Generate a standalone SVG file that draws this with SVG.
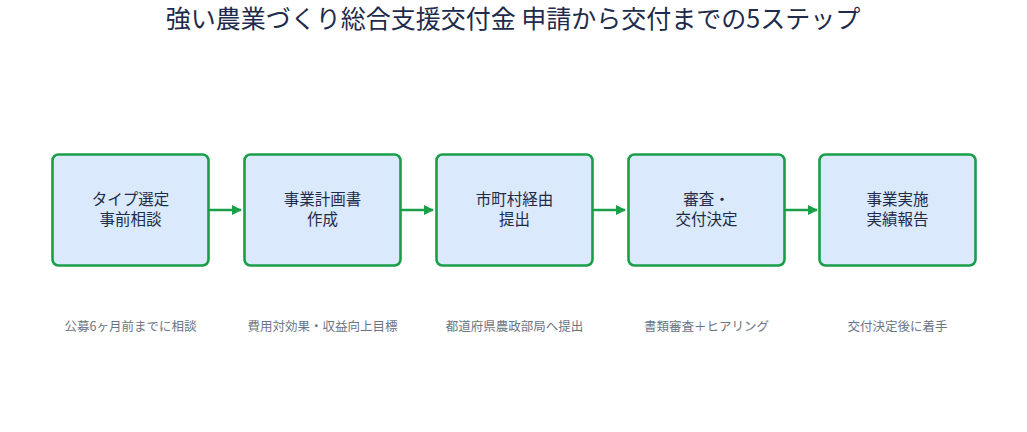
<svg xmlns="http://www.w3.org/2000/svg" width="1027" height="432" viewBox="0 0 1027 432">
<style>
.t{font-family:"Noto Sans CJK JP","Noto Sans",sans-serif;}
.title{font-size:25px;fill:#1e2b4a;text-anchor:middle;}
.box{fill:#dbe9fc;stroke:#1a9e48;stroke-width:2.6;}
.lbl{font-size:15.5px;fill:#1e2b4a;text-anchor:middle;}
.sub{font-size:12.5px;fill:#6b7485;text-anchor:middle;}
.con{stroke:#1a9e48;stroke-width:2.5;fill:none;}
</style>
<defs>
<marker id="ah" viewBox="0 0 10 10" refX="9" refY="5" markerWidth="4" markerHeight="4" orient="auto" markerUnits="strokeWidth">
<path d="M0,0 L10,5 L0,10 z" fill="#1a9e48"/>
</marker>
</defs>
<rect width="1027" height="432" fill="#ffffff"/>
<text class="t title" x="513" y="28">強い農業づくり総合支援交付金 申請から交付までの5ステップ</text>
<g id="connectors">
<line class="con" x1="209" y1="210" x2="241" y2="210" marker-end="url(#ah)"/>
<line class="con" x1="401" y1="210" x2="433" y2="210" marker-end="url(#ah)"/>
<line class="con" x1="593" y1="210" x2="625" y2="210" marker-end="url(#ah)"/>
<line class="con" x1="785" y1="210" x2="817" y2="210" marker-end="url(#ah)"/>
</g>
<g id="step1">
<rect class="box" x="52.5" y="154.5" width="156" height="111" rx="6"/>
<text class="t lbl" x="130.5" y="204.5">タイプ選定</text>
<text class="t lbl" x="130.5" y="224.5">事前相談</text>
<text class="t sub" x="130.5" y="331">公募6ヶ月前までに相談</text>
</g>
<g id="step2">
<rect class="box" x="244.5" y="154.5" width="156" height="111" rx="6"/>
<text class="t lbl" x="322.5" y="204.5">事業計画書</text>
<text class="t lbl" x="322.5" y="224.5">作成</text>
<text class="t sub" x="322.5" y="331">費用対効果・収益向上目標</text>
</g>
<g id="step3">
<rect class="box" x="436.5" y="154.5" width="156" height="111" rx="6"/>
<text class="t lbl" x="514.5" y="204.5">市町村経由</text>
<text class="t lbl" x="514.5" y="224.5">提出</text>
<text class="t sub" x="514.5" y="331">都道府県農政部局へ提出</text>
</g>
<g id="step4">
<rect class="box" x="628.5" y="154.5" width="156" height="111" rx="6"/>
<text class="t lbl" x="706.5" y="204.5">審査・</text>
<text class="t lbl" x="706.5" y="224.5">交付決定</text>
<text class="t sub" x="706.5" y="331">書類審査＋ヒアリング</text>
</g>
<g id="step5">
<rect class="box" x="819.5" y="154.5" width="156" height="111" rx="6"/>
<text class="t lbl" x="897.5" y="204.5">事業実施</text>
<text class="t lbl" x="897.5" y="224.5">実績報告</text>
<text class="t sub" x="897.5" y="331">交付決定後に着手</text>
</g>
</svg>
